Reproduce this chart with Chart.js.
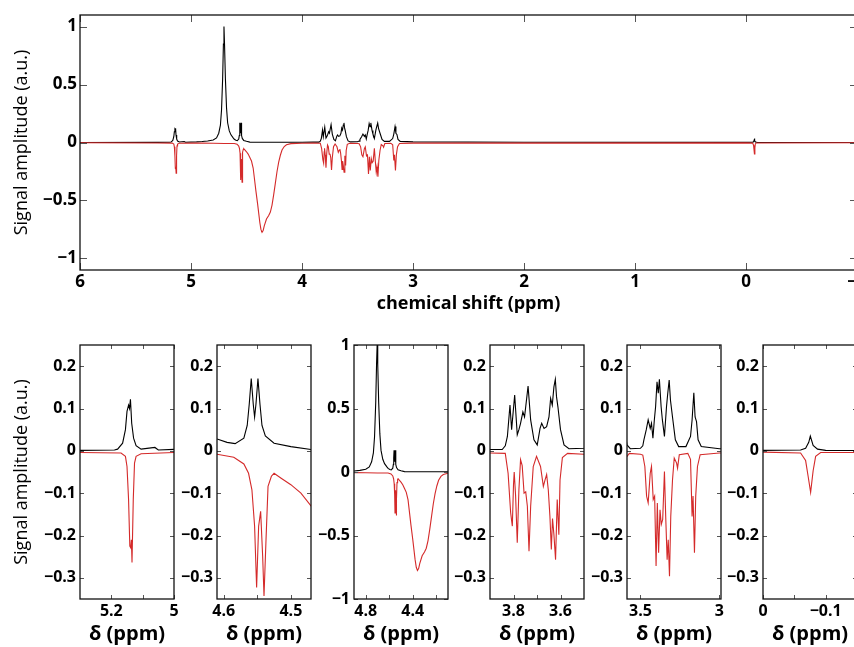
<!DOCTYPE html>
<html>
<head>
<meta charset="utf-8">
<script src="https://cdn.jsdelivr.net/npm/chart.js@4.4.1/dist/chart.umd.min.js"></script>
<style>
    html, body { margin: 0; padding: 0; background: #fff; }
    #fig { position: relative; width: 854px; height: 647px; overflow: hidden; background: #fff; }
    #fig canvas { position: absolute; left: 0; top: 0; }
</style>
</head>
<body>
<div id="fig"></div>
<script>
// Spectrum values (chemical shift in ppm, amplitude in a.u.)
const blackShift = [
    6.0, 5.3, 5.19, 5.18, 5.164, 5.155, 5.15, 5.145, 5.142, 5.139,
    5.135, 5.129, 5.121, 5.105, 5.061, 5.05, 4.95, 4.9, 4.85, 4.8,
    4.77, 4.75, 4.735, 4.725, 4.715, 4.708, 4.703, 4.698, 4.69, 4.68,
    4.67, 4.655, 4.64, 4.62, 4.61, 4.595, 4.583, 4.57, 4.565, 4.562,
    4.559, 4.556, 4.554, 4.552, 4.549, 4.546, 4.543, 4.538, 4.525, 4.5,
    4.47, 4.4, 4.0, 3.9, 3.848, 3.835, 3.826, 3.815, 3.808, 3.795,
    3.784, 3.777, 3.77, 3.76, 3.753, 3.738, 3.727, 3.713, 3.699, 3.687,
    3.68, 3.67, 3.659, 3.649, 3.642, 3.635, 3.628, 3.622, 3.617, 3.611,
    3.6, 3.585, 3.564, 3.5, 3.485, 3.478, 3.463, 3.451, 3.438, 3.43,
    3.421, 3.412, 3.404, 3.395, 3.387, 3.38, 3.369, 3.361, 3.348, 3.335,
    3.327, 3.318, 3.31, 3.297, 3.279, 3.258, 3.212, 3.183, 3.173, 3.162,
    3.154, 3.145, 3.135, 3.115, 3.0, 2.0, 0.0, -0.06, -0.068, -0.073,
    -0.0755, -0.08, -0.087, -0.1, -1.0
];
const blackSignal = [
    0, 0.001, 0.002, 0.004, 0.018, 0.05, 0.093, 0.108, 0.1, 0.122,
    0.065, 0.03, 0.012, 0.004, 0.008, 0.002, 0.005, 0.008, 0.013, 0.022,
    0.04, 0.08, 0.15, 0.28, 0.55, 0.85, 1.0, 0.85, 0.55, 0.3,
    0.17, 0.1, 0.066, 0.04, 0.028, 0.02, 0.017, 0.03, 0.06, 0.11,
    0.171, 0.11, 0.08, 0.11, 0.171, 0.11, 0.06, 0.035, 0.018, 0.01,
    0.003, 0.002, 0.002, 0.003, 0.003, 0.012, 0.034, 0.108, 0.05, 0.132,
    0.038, 0.05, 0.065, 0.092, 0.08, 0.153, 0.073, 0.026, 0.014, 0.053,
    0.065, 0.053, 0.057, 0.08, 0.124, 0.108, 0.151, 0.169, 0.128, 0.104,
    0.05, 0.014, 0.005, 0.006, 0.012, 0.026, 0.05, 0.073, 0.053, 0.065,
    0.03, 0.073, 0.104, 0.163, 0.136, 0.169, 0.104, 0.073, 0.034, 0.104,
    0.136, 0.167, 0.12, 0.08, 0.026, 0.01, 0.01, 0.034, 0.073, 0.137,
    0.08, 0.069, 0.026, 0.01, 0.005, 0.002, 0.001, 0.002, 0.006, 0.02,
    0.035, 0.013, 0.004, 0.001, 0
];
const redShift = [
    6.0, 5.3, 5.169, 5.155, 5.15, 5.145, 5.141, 5.138, 5.136, 5.134,
    5.13, 5.126, 5.121, 5.105, 5.0, 4.9, 4.8, 4.7, 4.61, 4.585,
    4.57, 4.563, 4.558, 4.554, 4.551, 4.548, 4.545, 4.542, 4.54, 4.537,
    4.534, 4.529, 4.525, 4.515, 4.5, 4.485, 4.47, 4.455, 4.44, 4.43,
    4.415, 4.4, 4.38, 4.37, 4.36, 4.35, 4.34, 4.32, 4.3, 4.285,
    4.27, 4.255, 4.24, 4.225, 4.21, 4.195, 4.18, 4.16, 4.14, 4.1,
    4.0, 3.9, 3.835, 3.823, 3.812, 3.805, 3.8, 3.797, 3.791, 3.784,
    3.777, 3.77, 3.763, 3.755, 3.748, 3.741, 3.734, 3.727, 3.716, 3.702,
    3.685, 3.673, 3.666, 3.659, 3.652, 3.645, 3.639, 3.634, 3.628, 3.621,
    3.614, 3.607, 3.602, 3.592, 3.57, 3.5, 3.485, 3.472, 3.461, 3.451,
    3.438, 3.43, 3.419, 3.41, 3.401, 3.393, 3.385, 3.376, 3.368, 3.359,
    3.348, 3.34, 3.331, 3.324, 3.316, 3.308, 3.297, 3.286, 3.271, 3.265,
    3.254, 3.2, 3.183, 3.173, 3.167, 3.158, 3.15, 3.139, 3.122, 3.0,
    0.0, -0.06, -0.068, -0.072, -0.076, -0.08, -0.084, -0.092, -1.0
];
const redSignal = [
    -0.002, -0.004, -0.005, -0.013, -0.037, -0.115, -0.225, -0.229, -0.21, -0.264,
    -0.115, -0.029, -0.013, -0.007, -0.004, -0.005, -0.006, -0.008, -0.008, -0.015,
    -0.031, -0.053, -0.092, -0.178, -0.323, -0.178, -0.143, -0.249, -0.343, -0.21,
    -0.084, -0.06, -0.053, -0.064, -0.08, -0.1, -0.13, -0.16, -0.22, -0.3,
    -0.42, -0.53, -0.69, -0.75, -0.775, -0.76, -0.72, -0.66, -0.63, -0.6,
    -0.54, -0.45, -0.35, -0.25, -0.17, -0.11, -0.065, -0.035, -0.02, -0.01,
    -0.006, -0.005, -0.006, -0.053, -0.147, -0.178, -0.08, -0.05, -0.107, -0.217,
    -0.092, -0.021, -0.035, -0.1, -0.097, -0.131, -0.237, -0.131, -0.037, -0.013,
    -0.037, -0.084, -0.069, -0.056, -0.092, -0.155, -0.233, -0.16, -0.198, -0.257,
    -0.115, -0.198, -0.069, -0.016, -0.006, -0.008, -0.01, -0.037, -0.107, -0.123,
    -0.053, -0.037, -0.115, -0.107, -0.272, -0.123, -0.241, -0.139, -0.174, -0.162,
    -0.049, -0.155, -0.257, -0.21, -0.296, -0.155, -0.069, -0.017, -0.029, -0.041,
    -0.009, -0.006, -0.02, -0.155, -0.107, -0.241, -0.107, -0.037, -0.009, -0.005,
    -0.003, -0.005, -0.023, -0.06, -0.098, -0.047, -0.013, -0.004, -0.002
];

// Axis ranges and ticks
const topXRange = [-1, 6];
const topXTicks = [6, 5, 4, 3, 2, 1, 0, -1];
const topYRange = [-1.1, 1.1];
const topYTicks = [1, 0.5, 0, -0.5, -1];

const zoomYRange = [-0.35, 0.25];
const zoomYTicks = [0.2, 0.1, 0, -0.1, -0.2, -0.3];
const wideYRange = [-1, 1];
const wideYTicks = [1, 0.5, 0, -0.5, -1];

const panelXRanges = [[5.0, 5.3], [4.47, 4.61], [4.1, 4.9], [3.5, 3.9], [2.99, 3.585], [-0.15, 0]];
const panelXTicks = [[5.2, 5.1, 5.0], [4.6, 4.55, 4.5], [4.8, 4.6, 4.4, 4.2], [3.8, 3.7, 3.6], [3.5, 3.0], [0, -0.05, -0.1]];
const panelXLabeled = [[5.2, 5.0], [4.6, 4.5], [4.8, 4.4], [3.8, 3.6], [3.5, 3.0], [0, -0.1]];

// Page layout (pixels)
const W = 870, H = 647;
const RED = '#d42a2a';
const FONT = "'Open Sans', 'DejaVu Sans', sans-serif";
const panelLefts = [80, 217, 354, 490, 627, 763];
const panelWidth = 94;

function fmt(v) {
    const s = String(+Math.abs(v).toFixed(2));
    return v < 0 ? '\u2212' + s : s;
}

// frame box + inward tick marks
const framePlugin = {
    id: 'frame',
    afterDatasetsDraw(chart, args, opts) {
        const { ctx, chartArea: a, scales: { x, y } } = chart;
        const len = opts.tick || 5;
        ctx.save();
        ctx.strokeStyle = '#555';
        ctx.lineWidth = 1;
        ctx.beginPath();
        x.ticks.forEach(t => {
            const px = Math.round(x.getPixelForValue(t.value)) + 0.5;
            ctx.moveTo(px, a.bottom); ctx.lineTo(px, a.bottom - len);
            ctx.moveTo(px, a.top); ctx.lineTo(px, a.top + len);
        });
        y.ticks.forEach(t => {
            const py = Math.round(y.getPixelForValue(t.value)) + 0.5;
            ctx.moveTo(a.left, py); ctx.lineTo(a.left + len, py);
            ctx.moveTo(a.right, py); ctx.lineTo(a.right - len, py);
        });
        ctx.stroke();
        ctx.strokeStyle = '#111';
        ctx.lineWidth = 1.3;
        ctx.strokeRect(a.left, a.top, a.right - a.left, a.bottom - a.top);
        ctx.restore();
    }
};

function makeChart(cfg) {
    const c = document.createElement('canvas');
    c.width = W;
    c.height = H;
    document.getElementById('fig').appendChild(c);
    const a = cfg.area;

    return new Chart(c, {
        type: 'line',
        data: {
            datasets: [
                {
                    data: redShift.map((x, i) => ({ x: x, y: redSignal[i] })),
                    borderColor: RED,
                    borderWidth: 1.1,
                    pointRadius: 0,
                    tension: 0
                },
                {
                    data: blackShift.map((x, i) => ({ x: x, y: blackSignal[i] })),
                    borderColor: '#000',
                    borderWidth: 1.1,
                    pointRadius: 0,
                    tension: 0
                }
            ]
        },
        options: {
            responsive: false,
            animation: false,
            devicePixelRatio: 1,
            events: [],
            layout: {
                autoPadding: false,
                padding: {
                    left: a.left - cfg.yWidth,
                    right: W - a.right,
                    top: a.top,
                    bottom: H - a.bottom - cfg.xHeight
                }
            },
            plugins: {
                legend: { display: false },
                tooltip: { enabled: false },
                frame: { tick: cfg.tickLen }
            },
            scales: {
                x: {
                    type: 'linear',
                    reverse: true,
                    min: cfg.xRange[0],
                    max: cfg.xRange[1],
                    grid: { display: false, drawTicks: false },
                    border: { display: false },
                    afterBuildTicks: s => { s.ticks = cfg.xTicks.map(v => ({ value: v })); },
                    afterFit: s => { s.height = cfg.xHeight; },
                    ticks: {
                        autoSkip: false,
                        maxRotation: 0,
                        padding: cfg.xPad,
                        color: '#000',
                        font: { family: FONT, size: cfg.tickSize, weight: 'bold' },
                        callback: v => cfg.xLabeled.includes(v) ? fmt(v) : ''
                    },
                    title: {
                        display: true,
                        text: cfg.xTitle,
                        color: '#000',
                        padding: { top: 0, bottom: 1 },
                        font: { family: FONT, size: cfg.xTitleSize, weight: 'bold' }
                    }
                },
                y: {
                    type: 'linear',
                    min: cfg.yRange[0],
                    max: cfg.yRange[1],
                    grid: { display: false, drawTicks: false },
                    border: { display: false },
                    afterBuildTicks: s => { s.ticks = cfg.yTicks.map(v => ({ value: v })); },
                    afterFit: s => { s.width = cfg.yWidth; },
                    ticks: {
                        autoSkip: false,
                        padding: cfg.yPad,
                        color: '#000',
                        font: { family: FONT, size: cfg.tickSize, weight: 'bold' },
                        callback: v => fmt(v)
                    },
                    title: {
                        display: cfg.yTitle,
                        text: 'Signal amplitude (a.u.)',
                        color: '#000',
                        padding: { top: 11, bottom: 0 },
                        font: { family: FONT, size: 18 }
                    }
                }
            }
        },
        plugins: [framePlugin]
    });
}

// full spectrum
makeChart({
    area: { left: 80, right: 857, top: 15, bottom: 270 },
    yWidth: 80, xHeight: 46, xPad: 2, yPad: 3, tickLen: 7, tickSize: 17,
    xRange: topXRange, xTicks: topXTicks, xLabeled: topXTicks,
    yRange: topYRange, yTicks: topYTicks, yTitle: true,
    xTitle: 'chemical shift (ppm)', xTitleSize: 18
});

// zoomed panels
panelXRanges.forEach((range, i) => {
    const left = panelLefts[i];
    const wide = i === 2;
    makeChart({
        area: { left: left, right: left + panelWidth, top: 345, bottom: 599 },
        yWidth: i === 0 ? 80 : 45, xHeight: 48, xPad: 3, yPad: 4, tickLen: 4, tickSize: 16,
        xRange: range, xTicks: panelXTicks[i], xLabeled: panelXLabeled[i],
        yRange: wide ? wideYRange : zoomYRange,
        yTicks: wide ? wideYTicks : zoomYTicks,
        yTitle: i === 0,
        xTitle: '\u03b4 (ppm)', xTitleSize: 20
    });
});
</script>
</body>
</html>
